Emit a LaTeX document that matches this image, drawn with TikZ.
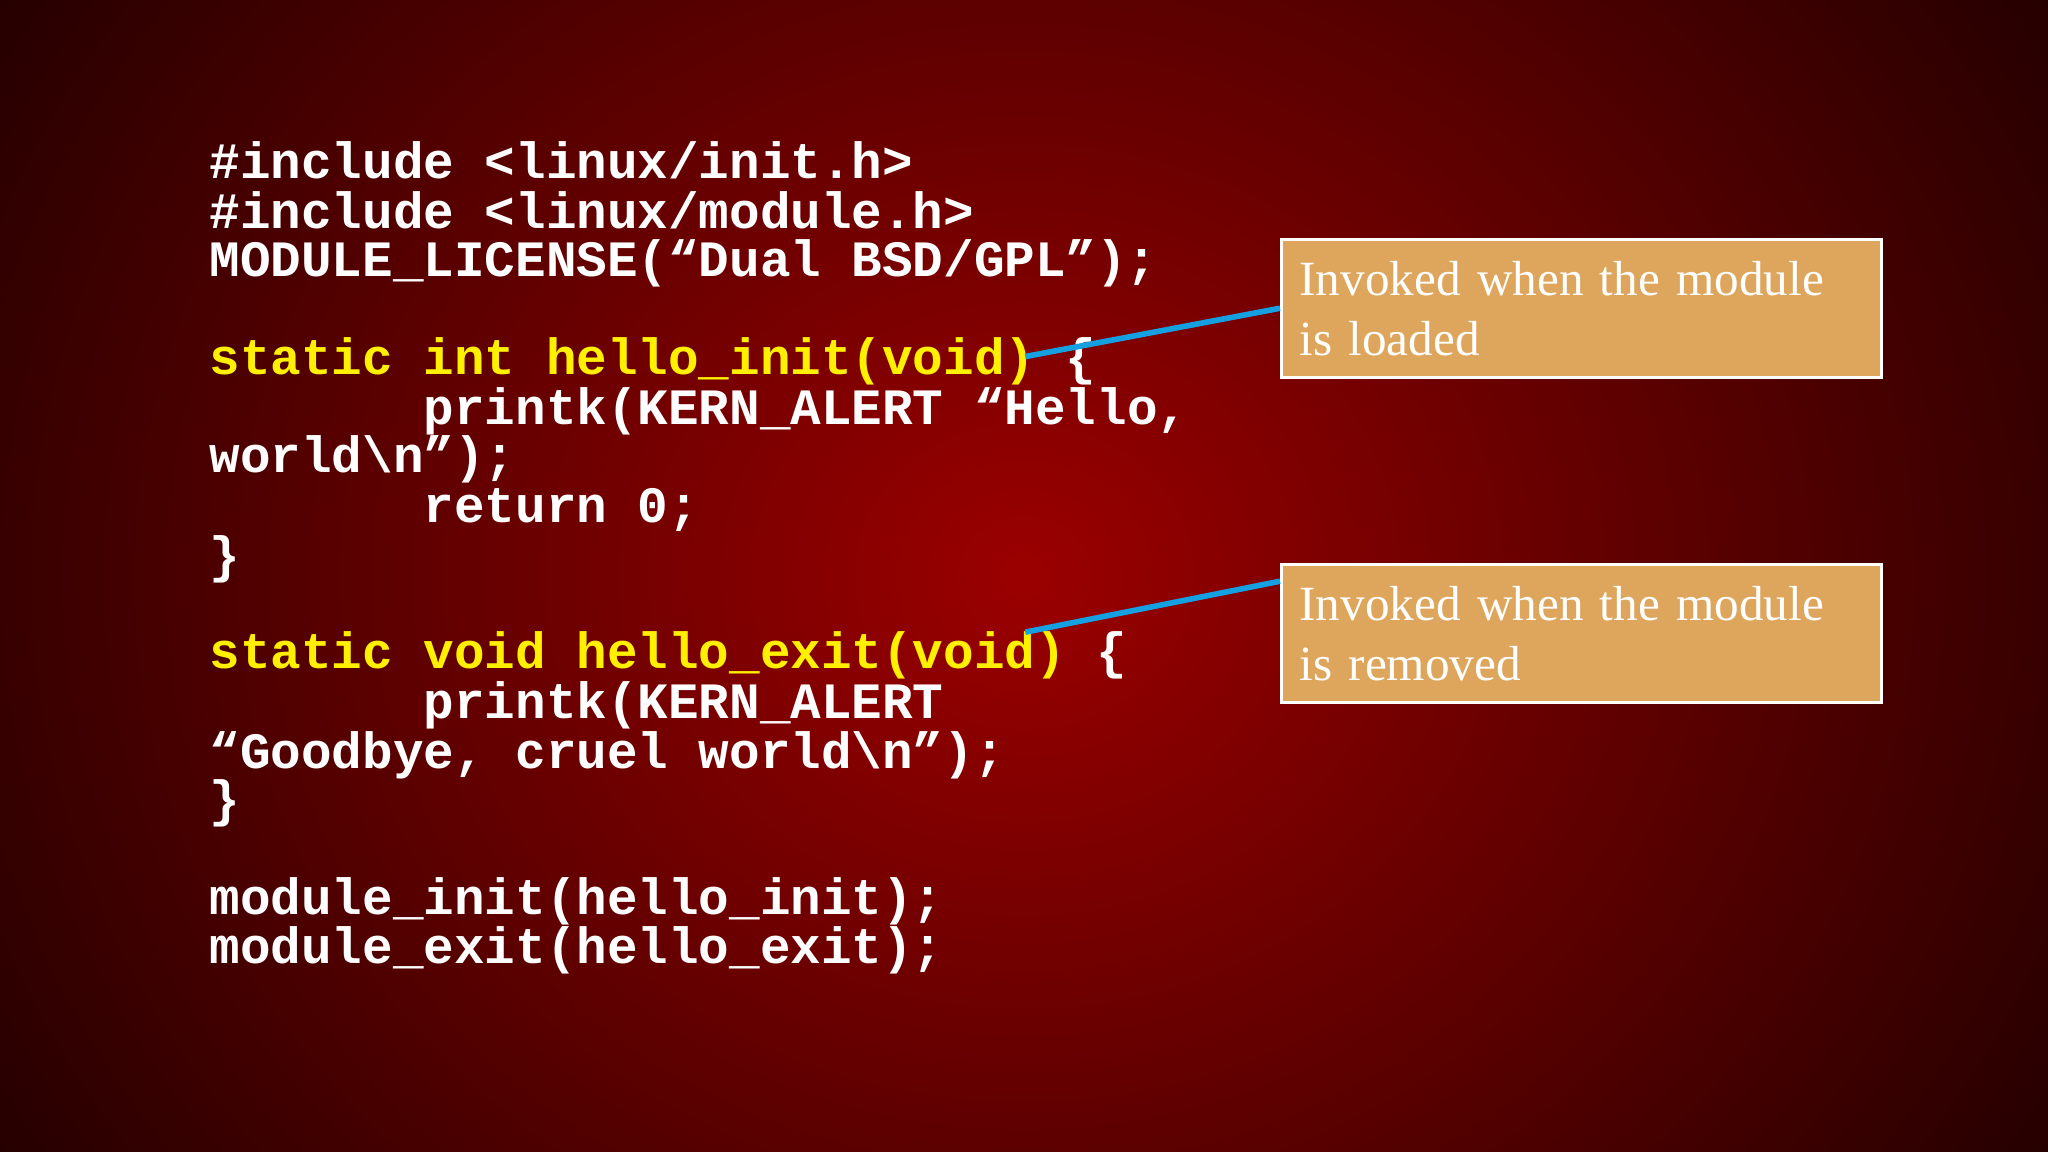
\documentclass[tikz,border=0pt]{standalone}
\usepackage{fontspec}
\setmainfont{Liberation Serif}
\newfontfamily\codefont{Liberation Mono}
\definecolor{bgin}{RGB}{155,0,0}
\definecolor{bgout}{RGB}{20,0,0}
\definecolor{boxfill}{RGB}{222,166,92}
\definecolor{linkblue}{RGB}{20,160,225}
\definecolor{codey}{RGB}{255,240,0}
\tikzset{
 code/.style={anchor=base west,inner sep=0pt,text=white,font=\codefont\bfseries\fontsize{14.5pt}{14pt}\selectfont},
 note/.style={draw=white,line width=0.8pt,fill=boxfill,text=white,align=left,anchor=north west,inner sep=0pt,
   font=\fontsize{14pt}{17pt}\selectfont,minimum width=6.0cm,minimum height=1.385cm,text width=5.8cm},
 link/.style={draw=linkblue,line width=1.6pt}
}
\begin{document}
\begin{tikzpicture}[x=0.01306cm,y=-0.01306cm]
\begin{scope}
\clip (0,0) rectangle (1568,882);
\shade[inner color=bgin,outer color=bgout] (-280,-520) rectangle (1848,1402);
\end{scope}
\useasboundingbox (0,0) rectangle (1568,882);
\node[code] (l1) at (160,137) {\#include <linux/init.h>};
\node[code] (l2) at (160,175) {\#include <linux/module.h>};
\node[code] (l3) at (160,212) {MODULE\_LICENSE(“Dual BSD/GPL”);};
\node[code] (l4) at (160,287) {\textcolor{codey}{static int hello\_init(void)} \{};
\node[code] (l5) at (160,325) {~~~~~~~printk(KERN\_ALERT “Hello,};
\node[code] (l6) at (160,362) {world\textbackslash n”);};
\node[code] (l7) at (160,400) {~~~~~~~return 0;};
\node[code] (l8) at (160,438) {\}};
\node[code] (l9) at (160,512) {\textcolor{codey}{static void hello\_exit(void)} \{};
\node[code] (l10) at (160,550) {~~~~~~~printk(KERN\_ALERT};
\node[code] (l11) at (160,588) {“Goodbye, cruel world\textbackslash n”);};
\node[code] (l12) at (160,625) {\}};
\node[code] (l13) at (160,700) {module\_init(hello\_init);};
\node[code] (l14) at (160,738) {module\_exit(hello\_exit);};
\node[note] (b1) at (980,182) {\hspace*{0.08cm}Invoked when the module\\\hspace*{0.08cm}is loaded};
\node[note] (b2) at (980,431) {\hspace*{0.08cm}Invoked when the module\\\hspace*{0.08cm}is removed};
\coordinate (e1) at (785,273);
\coordinate (e2) at (785,484);
\coordinate (s1) at (980,236);
\coordinate (s2) at (980,445);
\draw[link] (e1) -- (s1);
\draw[link] (e2) -- (s2);
\end{tikzpicture}
\end{document}
